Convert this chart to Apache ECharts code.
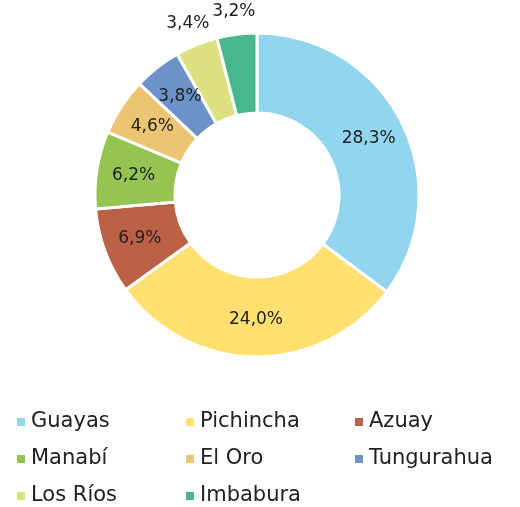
<!DOCTYPE html>
<html>
<head>
<meta charset="utf-8">
<script src="https://cdn.jsdelivr.net/npm/echarts@6/dist/echarts.min.js"></script>
<style>
  html, body { margin: 0; padding: 0; background: #fff; }
  #chart { width: 520px; height: 507px; }
</style>
</head>
<body>
<div id="chart"></div>
<script>
var provinces = ['Guayas', 'Pichincha', 'Azuay', 'Manabí', 'El Oro', 'Tungurahua', 'Los Ríos', 'Imbabura'];
var shares = [28.3, 24.0, 6.9, 6.2, 4.6, 3.8, 3.4, 3.2];
var colors = ['#92d5ee', '#ffe070', '#bb6145', '#95c452', '#ecc472', '#6d91c9', '#dde07e', '#48b88c'];
var outsideLabels = ['Los Ríos', 'Imbabura'];

var font = 'DejaVu Sans';

function pct(p) {
    return p.value.toFixed(1).replace('.', ',') + '%';
}

var chart = echarts.init(document.getElementById('chart'));

var ringData = provinces.map(function (name, i) {
    return {
        name: name,
        value: shares[i],
        itemStyle: { color: colors[i] },
        label: { show: outsideLabels.indexOf(name) < 0 }
    };
});

// invisible outer ring, only carries the labels of the thin slices
var outerData = provinces.map(function (name, i) {
    return {
        name: name,
        value: shares[i],
        label: { show: outsideLabels.indexOf(name) >= 0 }
    };
});

var labelStyle = {
    position: 'inside',
    fontFamily: font,
    fontSize: 17,
    color: '#222',
    formatter: pct
};

chart.setOption({
    animation: false,
    color: colors,
    legend: {
        left: 10,
        top: 405,
        width: 515,
        itemWidth: 10,
        itemHeight: 10,
        itemGap: 13,
        icon: 'rect',
        textStyle: {
            fontFamily: font,
            fontSize: 21,
            color: '#222',
            width: 140,
            lineHeight: 24
        },
        data: provinces
    },
    series: [{
        type: 'pie',
        center: [257, 195],
        radius: [82, 162],
        startAngle: 90,
        clockwise: true,
        avoidLabelOverlap: false,
        itemStyle: { borderColor: '#fff', borderWidth: 3 },
        label: labelStyle,
        labelLine: { show: false },
        emphasis: { disabled: true },
        data: ringData
    }, {
        type: 'pie',
        center: [257, 195],
        radius: [164, 200],
        startAngle: 90,
        clockwise: true,
        silent: true,
        avoidLabelOverlap: false,
        itemStyle: { color: 'rgba(0,0,0,0)', borderWidth: 0 },
        label: labelStyle,
        labelLine: { show: false },
        emphasis: { disabled: true },
        data: outerData
    }]
});
</script>
</body>
</html>
